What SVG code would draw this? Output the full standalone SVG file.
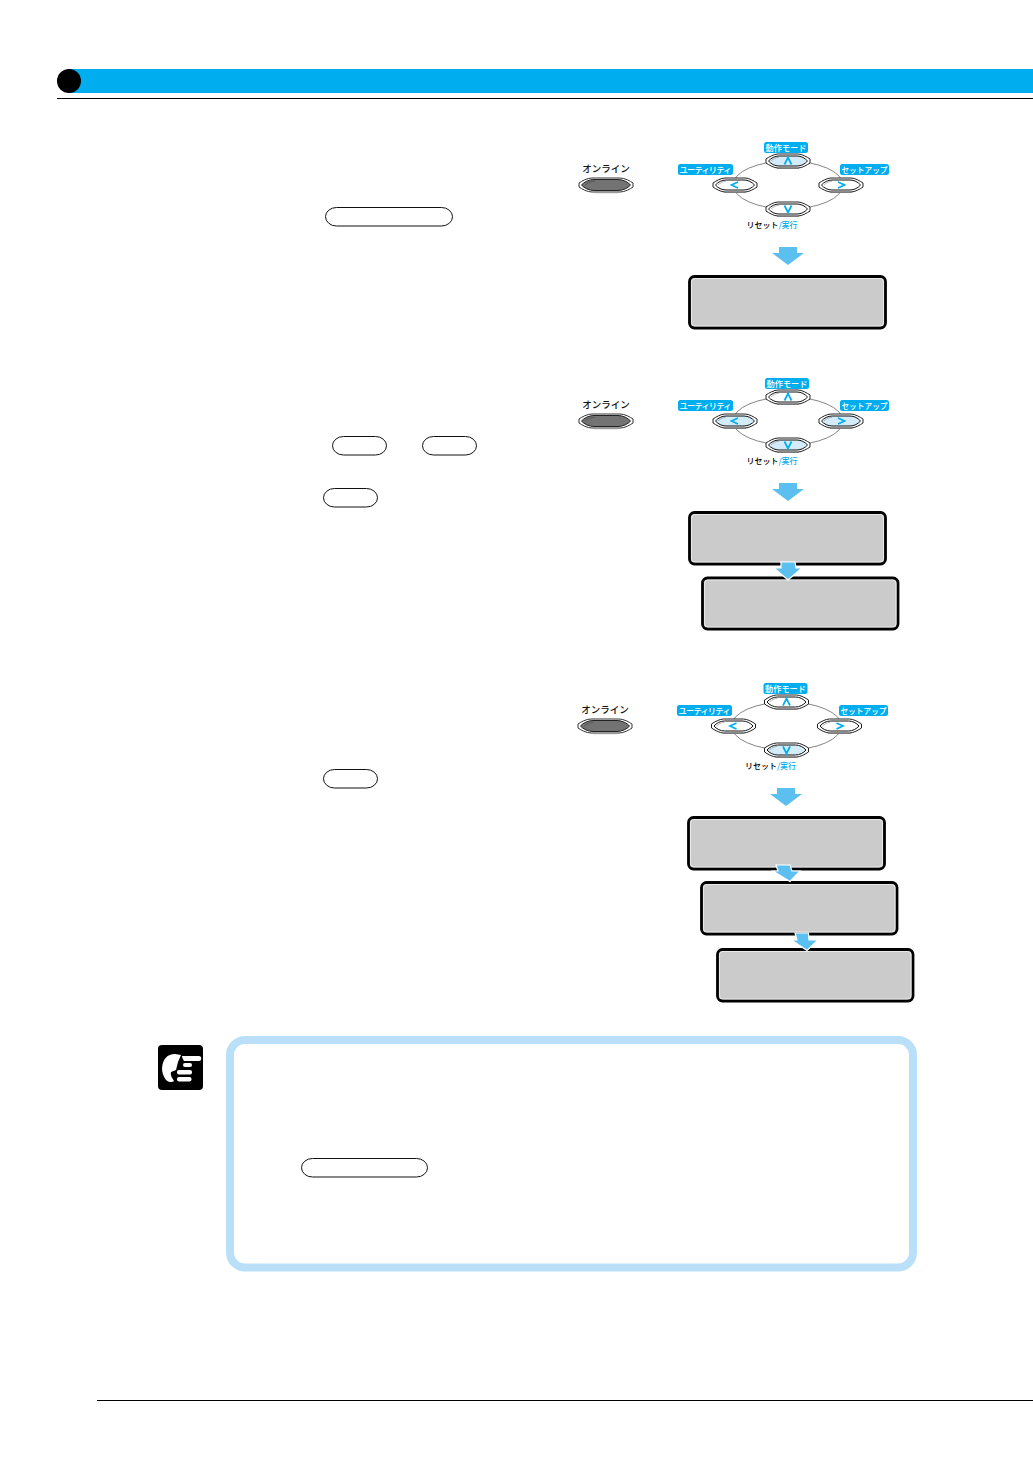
<svg xmlns="http://www.w3.org/2000/svg" width="1033" height="1459" viewBox="0 0 1033 1459">
<style>
text{font-family:"Noto Sans CJK JP","Noto Sans",sans-serif}
.lab{font-size:8.200px;fill:#fff;text-anchor:middle;font-weight:500}
.set{font-size:7.700px}
.blk{font-size:8px;fill:#000;text-anchor:middle;font-weight:500}
.on{font-size:9.500px;fill:#111;text-anchor:middle;font-weight:500}
.cy{fill:#00aeef}
.tag{fill:#00aeef}
.pill{fill:#fff;stroke:#111;stroke-width:1}
.lcd{fill:#cbcbcb;stroke:#000;stroke-width:2.800}
.lcdw{fill:none;stroke:#efefef;stroke-width:.8}
.arr{fill:#5bc0f0}
.arrw{fill:#5bc0f0;stroke:#fff;stroke-width:1.200}
.ring{fill:none;stroke:#666;stroke-width:.8}
.chev{fill:none;stroke:#00aeef;stroke-width:1.700}
</style>
<defs>
<g id="btn">
<path d="M-22-2C-19-4-14-7-10-7H10C14-7 19-4 22-2V2C19 4 14 7 10 7H-10C-14 7-19 4-22 2Z" fill="#fff" stroke="#222" stroke-width="1"/>
<path d="M-19.500 0C-17-3-13-5-9-5H9C13-5 17-3 19.500 0 17 3 13 5 9 5H-9C-13 5-17 3-19.500 0Z" fill="#fff" stroke="#111" stroke-width="1"/>
<path d="M-17 0C-15-2-12-3.500-9-3.800" fill="none" stroke="#777" stroke-width=".5"/>
<path d="M-11 7.300H11" stroke="#777" stroke-width="1"/>
</g>
<g id="btnh">
<path d="M-22-2C-19-4-14-7-10-7H10C14-7 19-4 22-2V2C19 4 14 7 10 7H-10C-14 7-19 4-22 2Z" fill="#fff" stroke="#222" stroke-width="1"/>
<path d="M-19.500 0C-17-3-13-5-9-5H9C13-5 17-3 19.500 0 17 3 13 5 9 5H-9C-13 5-17 3-19.500 0Z" fill="#d4ebf9" stroke="#111" stroke-width="1"/>
<path d="M-17 0C-15-2-12-3.500-9-3.800" fill="none" stroke="#777" stroke-width=".5"/>
<path d="M-11 7.300H11" stroke="#777" stroke-width="1"/>
</g>
<g id="onl">
<path d="M-27-2C-24-4-19-7-14-7H14C19-7 24-4 27-2V2C24 4 19 7 14 7H-14C-19 7-24 4-27 2Z" fill="#fff" stroke="#333" stroke-width="1"/>
<path d="M-24.500 0C-22-3-17-5.500-12-5.500H12C17-5.500 22-3 24.500 0 22 3 17 5.500 12 5.500H-12C-17 5.500-22 3-24.500 0Z" fill="#737373" stroke="#222" stroke-width="1"/>
<path d="M-21 0C-19-2-15-3.500-11-3.800" fill="none" stroke="#444" stroke-width=".5"/>
<path d="M-12 7.600H12" stroke="#999" stroke-width="1.200"/>
</g>
<path id="bigarrow" class="arr" d="M-9 0H9V6H16L0 18-16 6H-9Z"/>
</defs>

<g id="header">
<rect x="68" y="69" width="965" height="24" fill="#00aeef"/>
<circle cx="69" cy="81" r="12" fill="#000"/>
<rect x="57" y="98" width="976" height="1" fill="#000"/>
</g>

<g id="pills">
<rect class="pill" x="325.500" y="207.500" width="127" height="18.500" rx="11" ry="9.250"/>
<rect class="pill" x="332.500" y="436.500" width="54" height="18.500" rx="11" ry="9.250"/>
<rect class="pill" x="422.500" y="436.500" width="54" height="18.500" rx="11" ry="9.250"/>
<rect class="pill" x="323.500" y="488.500" width="54" height="18.500" rx="11" ry="9.250"/>
<rect class="pill" x="323.500" y="769.500" width="54" height="18.500" rx="11" ry="9.250"/>
<rect class="pill" x="301.500" y="1158.500" width="126" height="18.500" rx="11" ry="9.250"/>
</g>

<g id="online-1"><text class="on" x="606" y="172">オンライン</text><use href="#onl" x="606" y="185"/></g>
<g id="online-2"><text class="on" x="606" y="408">オンライン</text><use href="#onl" x="606" y="421"/></g>
<g id="online-3"><text class="on" x="605" y="713">オンライン</text><use href="#onl" x="605" y="726"/></g>

<g id="panel-1">
<ellipse class="ring" cx="788" cy="185" rx="55" ry="24"/>
<use href="#btnh" x="788" y="161"/><use href="#btn" x="735" y="185"/><use href="#btn" x="841" y="185"/><use href="#btn" x="788" y="209"/>
<path class="chev" d="M784.500 164.500 788 157.500 791.500 164.500M738 182 731.500 185 738 188M838 182 844.500 185 838 188M784.500 205.500 788 212.500 791.500 205.500"/>
<rect class="tag" x="764" y="142" width="44" height="11" rx="2.500"/>
<rect class="tag" x="678" y="164" width="55" height="11" rx="2.500"/>
<rect class="tag" x="840" y="164" width="49" height="11" rx="2.500"/>
<text class="lab" x="786" y="151">動作モード</text>
<text class="lab" x="705.500" y="173" textLength="52">ユーティリティ</text>
<text class="lab set" x="864.500" y="173">セットアップ</text>
<text class="blk" x="772" y="228">リセット<tspan class="cy">/実行</tspan></text>
</g>

<g id="panel-2">
<ellipse class="ring" cx="788" cy="421" rx="55" ry="24"/>
<use href="#btn" x="788" y="397"/><use href="#btnh" x="735" y="421"/><use href="#btnh" x="841" y="421"/><use href="#btnh" x="788" y="445"/>
<path class="chev" d="M784.500 400.500 788 393.500 791.500 400.500M738 418 731.500 421 738 424M838 418 844.500 421 838 424M784.500 441.500 788 448.500 791.500 441.500"/>
<rect class="tag" x="765" y="378" width="44" height="11" rx="2.500"/>
<rect class="tag" x="678" y="400" width="55" height="11" rx="2.500"/>
<rect class="tag" x="840" y="400" width="49" height="11" rx="2.500"/>
<text class="lab" x="787" y="387">動作モード</text>
<text class="lab" x="705.500" y="409" textLength="52">ユーティリティ</text>
<text class="lab set" x="864.500" y="409">セットアップ</text>
<text class="blk" x="772" y="464">リセット<tspan class="cy">/実行</tspan></text>
</g>

<g id="panel-3">
<ellipse class="ring" cx="786.500" cy="726" rx="55" ry="24"/>
<use href="#btn" x="786.500" y="702"/><use href="#btn" x="733.500" y="726"/><use href="#btn" x="839.500" y="726"/><use href="#btnh" x="786.500" y="750"/>
<path class="chev" d="M783 705.500 786.500 698.500 790 705.500M736.500 723 730 726 736.500 729M836.500 723 843 726 836.500 729M783 746.500 786.500 753.500 790 746.500"/>
<rect class="tag" x="763.500" y="683" width="44" height="11" rx="2.500"/>
<rect class="tag" x="677" y="705" width="55" height="11" rx="2.500"/>
<rect class="tag" x="839" y="705" width="49" height="11" rx="2.500"/>
<text class="lab" x="785.500" y="692">動作モード</text>
<text class="lab" x="704.500" y="714" textLength="52">ユーティリティ</text>
<text class="lab set" x="863.500" y="714">セットアップ</text>
<text class="blk" x="770.500" y="769">リセット<tspan class="cy">/実行</tspan></text>
</g>

<g id="arrows">
<use href="#bigarrow" x="788" y="247"/>
<use href="#bigarrow" x="788" y="483"/>
<use href="#bigarrow" x="786" y="788"/>
</g>

<g id="displays">
<rect class="lcd" x="689.500" y="276.500" width="196" height="51.500" rx="5"/>
<rect class="lcdw" x="691.500" y="278.500" width="192" height="47.500" rx="3.500"/>
<rect class="lcd" x="689.500" y="512.500" width="196" height="51.500" rx="5"/>
<rect class="lcdw" x="691.500" y="514.500" width="192" height="47.500" rx="3.500"/>
<rect class="lcd" x="702.500" y="578" width="195.500" height="51" rx="5"/>
<rect class="lcdw" x="704.500" y="580" width="191.500" height="47" rx="3.500"/>
<rect class="lcd" x="688.500" y="817.500" width="196" height="51.500" rx="5"/>
<rect class="lcdw" x="690.500" y="819.500" width="192" height="47.500" rx="3.500"/>
<rect class="lcd" x="701.500" y="882.500" width="195.500" height="51.500" rx="5"/>
<rect class="lcdw" x="703.500" y="884.500" width="191.500" height="47.500" rx="3.500"/>
<rect class="lcd" x="717.500" y="949.500" width="195.500" height="51.500" rx="5"/>
<rect class="lcdw" x="719.500" y="951.500" width="191.500" height="47.500" rx="3.500"/>
</g>

<g id="small-arrows">
<path class="arrw" d="M781 562H795L796 568H802L788 580 774 568H781Z"/>
<path class="arrw" d="M776 865H790L792 871H800L790 881.500 773 871H778Z"/>
<path class="arrw" d="M795 933H808.500L809 940H818L807 950.500 791.500 940H797Z"/>
</g>

<g id="note">
<rect x="230" y="1040" width="683" height="227.500" rx="15" fill="none" stroke="#b9e0f8" stroke-width="8"/>
</g>

<g id="note-icon">
<rect x="158" y="1045" width="45" height="45" rx="4" fill="#000"/>
<path d="M162 1068C163 1059 167 1054 175 1054L181 1055 178 1062 176 1070 171 1072C170 1076 173 1079 174 1081 172 1083 168 1082 166 1080 163 1076 162 1072 162 1068Z" fill="#fff"/>
<path d="M182 1056H199C202 1056 202 1061 199 1061H184C183 1059 182 1058 182 1056Z" fill="#fff"/>
<rect x="183" y="1063" width="9" height="4" rx="2" fill="#fff"/>
<rect x="177" y="1070" width="15" height="4.500" rx="2" fill="#fff"/>
<rect x="177" y="1077" width="14.500" height="4.500" rx="2" fill="#fff"/>
</g>

<g id="footer"><rect x="97" y="1400" width="936" height="1" fill="#000"/></g>
</svg>
